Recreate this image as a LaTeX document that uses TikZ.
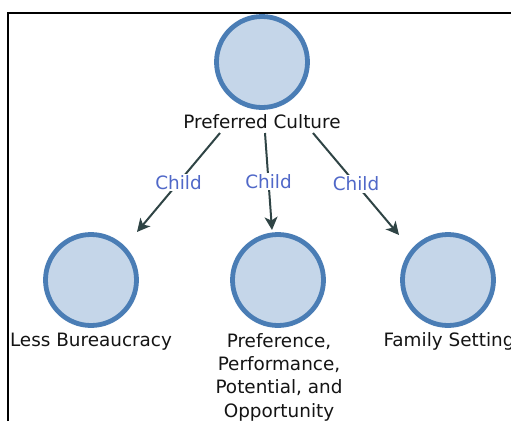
\documentclass[tikz,border=0pt]{standalone}
\usepackage{fontspec}
\setmainfont{DejaVu Sans}
\usetikzlibrary{arrows.meta}
\definecolor{ringblue}{HTML}{4A7DB5}
\definecolor{fillblue}{HTML}{C5D6E9}
\definecolor{arrowgray}{HTML}{2F4445}
\definecolor{lblblue}{HTML}{5068C8}
\definecolor{txtdark}{HTML}{141414}
\begin{document}
\begin{tikzpicture}[x=1pt,y=-1pt,
  bubble/.style={circle,draw=ringblue,line width=4.8pt,fill=fillblue,minimum size=91pt,inner sep=0pt},
  caption/.style={font=\fontsize{18.4}{23.3}\selectfont,text=txtdark,inner sep=0pt,align=center},
  rel/.style={draw=arrowgray,line width=2pt,-{Stealth[length=13pt,width=13pt,inset=3.5pt]}},
  rellabel/.style={font=\fontsize{18.4}{23.3}\selectfont,text=lblblue,fill=white,inner sep=1.5pt}]
\useasboundingbox (0,0) rectangle (511,421);
\draw[line width=2pt,black] (7.5,421) -- (7.5,12.5) -- (512,12.5);
% circles
\node[bubble] (pc) at (262,62) {};
\node[bubble] (lb) at (91,280) {};
\node[bubble] (pp) at (278,280) {};
\node[bubble] (fs) at (448,280) {};
% captions
\node[caption,anchor=base] (pcl) at (262,128.3) {Preferred Culture};
\node[caption,anchor=base] (lbl) at (91,346.7) {Less Bureaucracy};
\node[caption,anchor=base] (fsl) at (449,346.7) {Family Setting};
\node[caption,anchor=north] (ppl) at (279,333) {Preference,\\Performance,\\Potential, and\\Opportunity};
% connector ends
\coordinate (s1) at (220,133);
\coordinate (t1) at (137,232);
\coordinate (s2) at (265,133);
\coordinate (t2) at (272,230);
\coordinate (s3) at (313,133);
\coordinate (t3) at (399,235);
\draw[rel] (s1) -- node[rellabel] {Child} (t1);
\draw[rel] (s2) -- node[rellabel] {Child} (t2);
\draw[rel] (s3) -- node[rellabel] {Child} (t3);
\end{tikzpicture}
\end{document}
